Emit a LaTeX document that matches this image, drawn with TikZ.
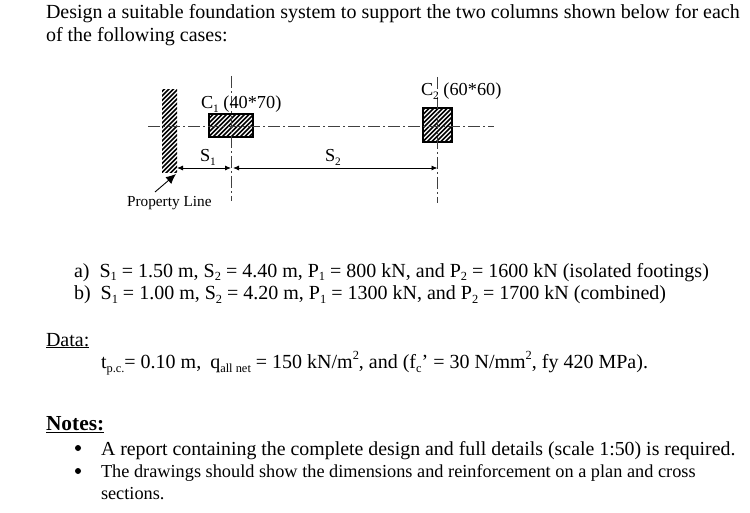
\documentclass[tikz,border=0pt]{standalone}
\usepackage{fontspec}
\setmainfont{Liberation Serif}
\usetikzlibrary{arrows.meta}
\newcommand{\ssub}[1]{\raisebox{-0.2em}{\scalebox{0.62}{#1}}}
\newcommand{\ssup}[1]{\raisebox{0.42em}{\scalebox{0.62}{#1}}}
\newcommand{\uline}[1]{\underline{#1}}
\tikzset{
  body/.style={anchor=base west,inner sep=0pt,outer sep=0pt,font=\fontsize{20}{22}\selectfont},
  report/.style={anchor=base west,inner sep=0pt,outer sep=0pt,font=\fontsize{19.85}{22}\selectfont},
  tight/.style={anchor=base west,inner sep=0pt,outer sep=0pt,font=\fontsize{18.3}{20}\selectfont},
  plabel/.style={anchor=base west,inner sep=0pt,outer sep=0pt,font=\fontsize{15.3}{17}\selectfont},
  heading/.style={anchor=base west,inner sep=0pt,outer sep=0pt,font=\fontsize{21.4}{24}\selectfont\bfseries},
  bulletdot/.style={circle,fill=black,inner sep=0pt,minimum size=6pt},
  axis/.style={line width=0.8pt,black!75,dash pattern=on 12pt off 3pt on 2pt off 3pt},
  dim/.style={line width=0.9pt,{Latex[length=6pt,width=5pt]}-{Latex[length=6pt,width=5pt]}},
  lead/.style={line width=0.9pt,-{Latex[length=10pt,width=9pt]}},
  hatchbox/.style={line width=1.1pt,draw=black}
}
\newcommand{\hatchrect}[4]{%
  \begin{scope}
    \clip (#1,#2) rectangle (#3,#4);
    \foreach \k in {-160,-155.5,...,200} {
      \draw[line width=1.7pt,black] (#1+\k,#4+20) -- (#1+\k+130,#4+20-130);
    }
  \end{scope}}
\begin{document}
\begin{tikzpicture}[x=1pt,y=-1pt]
\useasboundingbox (0,0) rectangle (750,513);
\fill[white] (0,0) rectangle (750,513);

\node[body] (t1) at (46,19) {Design a suitable foundation system to support the two columns shown below for each};
\node[body] (t2) at (46,42) {of the following cases:};

% wall and columns
\hatchrect{162}{90}{177}{173}
\hatchrect{209}{114}{253}{137}
\hatchrect{423}{108}{452}{142}
\node[hatchbox,inner sep=0pt,minimum width=44pt,minimum height=23pt] (c1) at (231,125.5) {};
\node[hatchbox,inner sep=0pt,minimum width=29pt,minimum height=34pt] (c2) at (437.5,125) {};
\coordinate (wall) at (177,168);
\coordinate (wallc) at (176,174);

% axes
\coordinate (ha) at (148,126);
\coordinate (hb) at (494,126);
\coordinate (v1a) at (231,76);
\coordinate (v1b) at (231,201);
\coordinate (v2a) at (437.5,77);
\coordinate (v2b) at (437.5,203);
\coordinate (d1) at (231,168);
\coordinate (d1b) at (233,168);
\coordinate (d2) at (437.5,168);
\coordinate (leadfrom) at (155,192);
\draw[axis] (ha) -- (hb);
\draw[axis] (v1a) -- (v1b);
\draw[axis] (v2a) -- (v2b);

% dimensions
\draw[dim] (wall) -- (d1);
\draw[dim] (d1b) -- (d2);
\draw[lead] (leadfrom) -- (wallc);

\node[tight] (c1l) at (201,109) {C\ssub{1} (40*70)};
\node[tight] (c2l) at (421,96) {C\ssub{2} (60*60)};
\node[tight] (s1) at (200,162) {S\ssub{1}};
\node[tight] (s2) at (325,162) {S\ssub{2}};
\node[plabel] (pl) at (127,207) {Property Line};

\node[body] (a) at (74,277) {a)\hspace{10pt}S\ssub{1} = 1.50 m, S\ssub{2} = 4.40 m, P\ssub{1} = 800 kN, and P\ssub{2} = 1600 kN (isolated footings)};
\node[body] (b) at (74,300) {b)\hspace{10pt}S\ssub{1} = 1.00 m, S\ssub{2} = 4.20 m, P\ssub{1} = 1300 kN, and P\ssub{2} = 1700 kN (combined)};

\node[body] (data) at (46,346) {\uline{Data:}};
\node[body] (d) at (101,368) {t\ssub{p.c.}= 0.10 m,\hspace{9pt}q\ssub{all net} = 150 kN/m\ssup{2}, and (f\ssub{c}’ = 30 N/mm\ssup{2}, fy 420 MPa).};

\node[heading] (notes) at (46,430) {\uline{Notes:}};
\node[bulletdot] (b1) at (78,448) {};
\node[bulletdot] (b2) at (78,471) {};
\node[report] (n1) at (101,455) {A report containing the complete design and full details (scale 1:50) is required.};
\node[tight] (n2) at (101,477) {The drawings should show the dimensions and reinforcement on a plan and cross};
\node[tight] (n3) at (101,499) {sections.};
\end{tikzpicture}
\end{document}
